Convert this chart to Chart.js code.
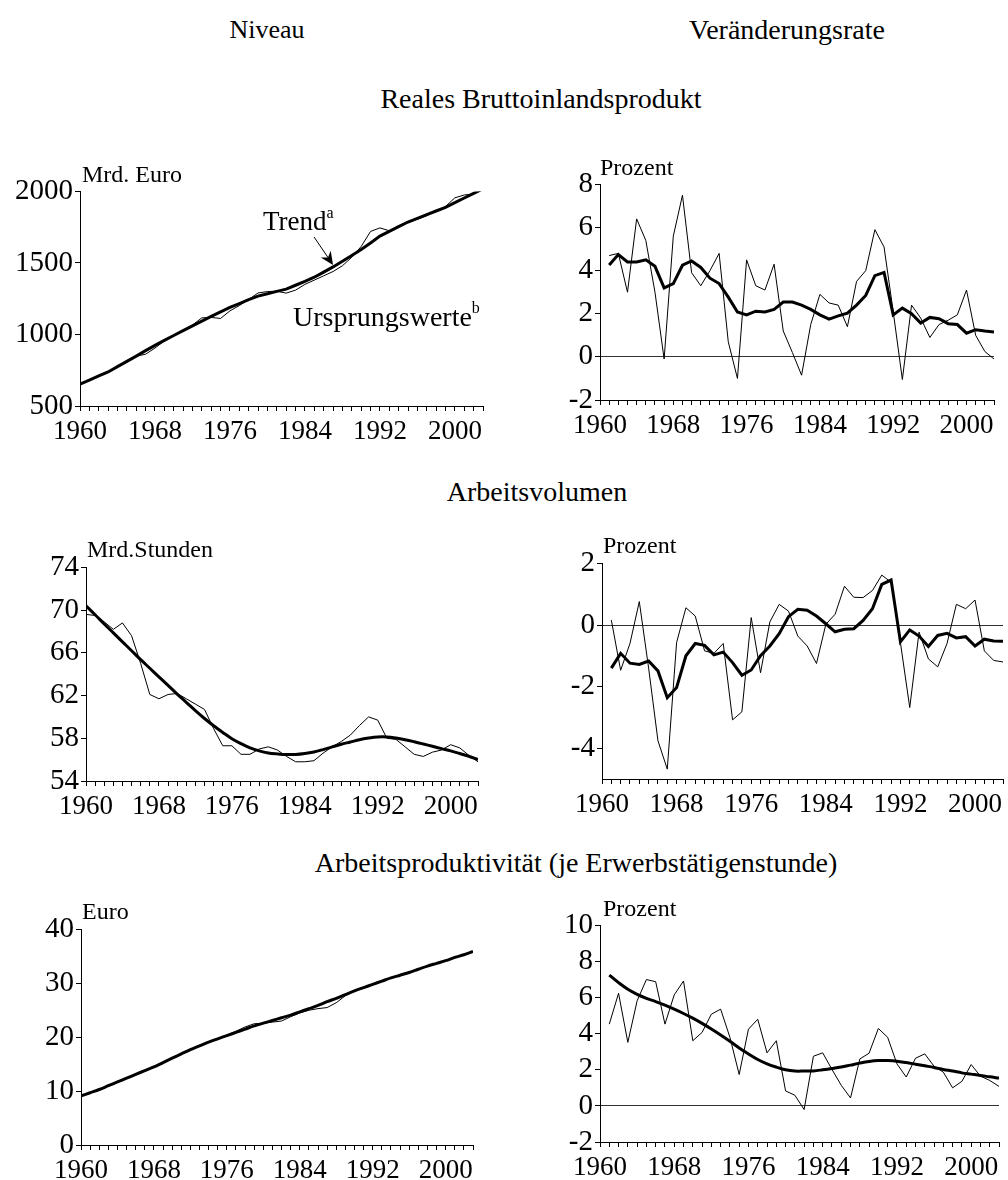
<!DOCTYPE html>
<html lang="de">
<head>
<meta charset="utf-8">
<title>Niveau und Veränderungsrate</title>
<script src="https://cdn.jsdelivr.net/npm/chart.js@4.4.1/dist/chart.umd.min.js"></script>
<style>
  html, body { margin: 0; padding: 0; background: #fff; }
  body { width: 1008px; height: 1180px; position: relative; overflow: hidden;
         font-family: 'Liberation Serif', 'Times New Roman', serif; color: #000; }
  canvas { position: absolute; }
  .txt { position: absolute; white-space: nowrap; line-height: 1; }
  .titel { font-size: 28px; transform: translateX(-50%); }
  .einheit { font-size: 24px; }
  .notiz { font-size: 27px; }
  .notiz sup { font-size: 16px; vertical-align: top; position: relative; top: -3px; }
</style>
</head>
<body>
<canvas id="bipNiveauChart"></canvas>
<canvas id="bipRateChart"></canvas>
<canvas id="avNiveauChart"></canvas>
<canvas id="avRateChart"></canvas>
<canvas id="apNiveauChart"></canvas>
<canvas id="apRateChart"></canvas>

<div class="txt titel" style="left:267px; top:17px; font-size:26px">Niveau</div>
<div class="txt titel" style="left:787px; top:16px">Veränderungsrate</div>
<div class="txt titel" style="left:541px; top:85px">Reales Bruttoinlandsprodukt</div>
<div class="txt titel" style="left:537px; top:478px">Arbeitsvolumen</div>
<div class="txt titel" style="left:576px; top:849px">Arbeitsproduktivität (je Erwerbstätigenstunde)</div>

<div class="txt einheit" style="left:82px; top:162px">Mrd. Euro</div>
<div class="txt einheit" style="left:600px; top:155px">Prozent</div>
<div class="txt einheit" style="left:87px; top:537px">Mrd.Stunden</div>
<div class="txt einheit" style="left:603px; top:533px">Prozent</div>
<div class="txt einheit" style="left:82px; top:899px">Euro</div>
<div class="txt einheit" style="left:603px; top:896px">Prozent</div>

<div class="txt notiz" style="left:263px; top:208px">Trend<sup>a</sup></div>
<div class="txt notiz" style="left:293px; top:303px; font-size:28px">Ursprungswerte<sup>b</sup></div>

<script>
// Jahre
const jahre = [1960, 1961, 1962, 1963, 1964, 1965, 1966, 1967, 1968, 1969,
  1970, 1971, 1972, 1973, 1974, 1975, 1976, 1977, 1978, 1979,
  1980, 1981, 1982, 1983, 1984, 1985, 1986, 1987, 1988, 1989,
  1990, 1991, 1992, 1993, 1994, 1995, 1996, 1997, 1998, 1999,
  2000, 2001, 2002, 2003];
const rateJahre = jahre.slice(1);
const beschrifteteJahre = [1960, 1968, 1976, 1984, 1992, 2000];

// Reales Bruttoinlandsprodukt (Mrd. Euro)
const bipNiveau = [653, 683, 713, 740, 776, 810, 848, 862, 905, 955,
  993, 1026, 1066, 1116, 1119, 1112, 1165, 1202, 1245, 1290,
  1300, 1302, 1289, 1310, 1350, 1380, 1410, 1440, 1480, 1540,
  1615, 1720, 1745, 1725, 1760, 1790, 1805, 1830, 1862, 1895,
  1955, 1975, 1982, 2012];
const bipTrend = [653, 681, 710, 738, 775, 812, 849, 887, 924, 959,
  993, 1027, 1060, 1093, 1126, 1158, 1190, 1216, 1243, 1268,
  1285, 1301, 1317, 1344, 1371, 1400, 1436, 1472, 1512, 1552,
  1594, 1640, 1688, 1721, 1754, 1786, 1812, 1838, 1863, 1889,
  1921, 1954, 1986, 2019];
// Veränderungsrate (Prozent), ab 1961
const bipRate = [4.7, 4.8, 3.0, 6.4, 5.4, 3.0, -0.1, 5.6, 7.5, 3.9,
  3.3, 4.0, 4.8, 0.7, -1.0, 4.5, 3.3, 3.1, 4.3, 1.2,
  0.2, -0.85, 1.5, 2.9, 2.5, 2.4, 1.4, 3.5, 4.0, 5.9,
  5.1, 2.1, -1.05, 2.4, 1.8, 0.9, 1.5, 1.7, 1.95, 3.1,
  1.0, 0.25, -0.1];
const bipRateTrend = [4.26, 4.75, 4.4, 4.4, 4.5, 4.2, 3.2, 3.4, 4.25, 4.45,
  4.15, 3.65, 3.4, 2.77, 2.08, 1.95, 2.12, 2.08, 2.2, 2.54,
  2.54, 2.4, 2.2, 1.95, 1.75, 1.9, 2.03, 2.4, 2.85, 3.77,
  3.92, 1.95, 2.26, 2.0, 1.57, 1.83, 1.77, 1.54, 1.5, 1.1,
  1.26, 1.2, 1.15];

// Arbeitsvolumen (Mrd. Stunden)
const avNiveau = [69.6, 69.5, 68.9, 68.2, 68.8, 67.6, 65.0, 62.1, 61.7, 62.1,
  62.2, 61.7, 61.2, 60.7, 58.9, 57.3, 57.3, 56.5, 56.5, 57.0,
  57.2, 56.9, 56.3, 55.8, 55.8, 55.9, 56.6, 57.2, 57.7, 58.3,
  59.2, 60.0, 59.7, 58.0, 57.9, 57.2, 56.5, 56.3, 56.7, 56.9,
  57.4, 57.1, 56.4, 55.8];
const avTrend = [70.41, 69.57, 68.7, 67.87, 67.03, 66.2, 65.36, 64.56, 63.75, 62.95,
  62.14, 61.37, 60.59, 59.85, 59.17, 58.55, 57.96, 57.5, 57.1, 56.82,
  56.63, 56.54, 56.48, 56.48, 56.57, 56.72, 56.94, 57.19, 57.44, 57.65,
  57.87, 58.02, 58.12, 58.12, 58.02, 57.87, 57.68, 57.47, 57.25, 57.03,
  56.82, 56.57, 56.32, 56.01];
const avRate = [0.16, -1.47, -0.6, 0.76, -1.4, -3.76, -4.68, -0.57, 0.56, 0.29,
  -0.84, -0.92, -0.6, -3.08, -2.82, 0.24, -1.55, 0.1, 0.67, 0.45,
  -0.36, -0.68, -1.25, 0.02, 0.35, 1.26, 0.9, 0.89, 1.12, 1.62,
  1.39, -0.57, -2.68, -0.23, -1.1, -1.36, -0.6, 0.67, 0.53, 0.81,
  -0.84, -1.15, -1.2];
const avRateTrend = [-1.4, -0.92, -1.24, -1.28, -1.17, -1.49, -2.36, -2.03, -1.0, -0.6,
  -0.66, -0.97, -0.88, -1.22, -1.63, -1.46, -1.0, -0.68, -0.28, 0.27,
  0.51, 0.48, 0.29, 0.04, -0.22, -0.14, -0.12, 0.15, 0.53, 1.32,
  1.46, -0.55, -0.16, -0.36, -0.7, -0.34, -0.27, -0.42, -0.38, -0.68,
  -0.46, -0.52, -0.53];

// Arbeitsproduktivität (Euro je Erwerbstätigenstunde)
const apNiveau = [9.0, 9.6, 10.3, 10.9, 11.6, 12.4, 13.2, 13.8, 14.6, 15.4,
  16.1, 16.9, 17.7, 18.5, 19.1, 19.7, 20.4, 21.1, 21.9, 22.5,
  22.6, 22.8, 23.0, 23.8, 24.5, 25.0, 25.3, 25.5, 26.4, 27.7,
  28.7, 29.3, 29.8, 30.3, 31.0, 31.6, 32.1, 32.6, 33.2, 33.6,
  34.2, 34.8, 35.3, 35.9];
const apTrend = [9.1, 9.7, 10.3, 11.0, 11.7, 12.4, 13.1, 13.8, 14.5, 15.3,
  16.1, 16.9, 17.7, 18.4, 19.1, 19.7, 20.3, 20.9, 21.5, 22.1,
  22.6, 23.1, 23.6, 24.1, 24.7, 25.3, 25.9, 26.6, 27.2, 27.9,
  28.6, 29.2, 29.8, 30.4, 31.0, 31.5, 32.0, 32.6, 33.2, 33.7,
  34.2, 34.8, 35.3, 35.9];
const apRate = [4.53, 6.24, 3.52, 5.82, 7.0, 6.88, 4.53, 6.15, 6.92, 3.61,
  4.07, 5.08, 5.36, 3.8, 1.74, 4.25, 4.8, 2.94, 3.61, 0.83,
  0.59, -0.2, 2.75, 2.94, 2.02, 1.14, 0.44, 2.6, 2.92, 4.29,
  3.8, 2.33, 1.6, 2.64, 2.88, 2.2, 1.87, 1.0, 1.36, 2.29,
  1.65, 1.41, 1.08];
const apRateTrend = [7.25, 6.83, 6.46, 6.18, 5.96, 5.78, 5.58, 5.36, 5.12, 4.86,
  4.57, 4.26, 3.93, 3.58, 3.21, 2.88, 2.57, 2.33, 2.15, 2.0,
  1.93, 1.93, 1.94, 2.0, 2.07, 2.15, 2.26, 2.37, 2.46, 2.51,
  2.51, 2.48, 2.4, 2.31, 2.22, 2.13, 2.02, 1.93, 1.83, 1.76,
  1.69, 1.61, 1.54];

const schrift = "'Liberation Serif', 'Times New Roman', serif";
const Y_BREITE = 84;
const X_HOEHE = 48;
const OBEN = 18;
const RECHTS = 14;

// Pfeil vom Wort "Trend" auf die Trendlinie (1987)
const trendPfeil = {
  id: 'trendPfeil',
  afterDatasetsDraw(chart) {
    const { ctx, scales } = chart;
    const i = jahre.indexOf(1987);
    const zx = scales.x.getPixelForValue(1987);
    const zy = scales.y.getPixelForValue(bipTrend[i]) - 2;
    const sx = zx - 19;
    const sy = zy - 28;
    const laenge = Math.hypot(zx - sx, zy - sy);
    const dx = (zx - sx) / laenge;
    const dy = (zy - sy) / laenge;
    ctx.save();
    ctx.strokeStyle = '#000';
    ctx.fillStyle = '#000';
    ctx.lineWidth = 1;
    ctx.beginPath();
    ctx.moveTo(sx, sy);
    ctx.lineTo(zx - dx * 8, zy - dy * 8);
    ctx.stroke();
    ctx.beginPath();
    ctx.moveTo(zx, zy);
    ctx.lineTo(zx - dx * 13 - dy * 6, zy - dy * 13 + dx * 6);
    ctx.lineTo(zx - dx * 9, zy - dy * 9);
    ctx.lineTo(zx - dx * 13 + dy * 6, zy - dy * 13 - dx * 6);
    ctx.closePath();
    ctx.fill();
    ctx.restore();
  }
};

function erzeugeDiagramm(canvasId, flaeche, skala, xWerte, ursprung, trend, glatt, extraPlugins) {
  const canvas = document.getElementById(canvasId);
  canvas.width = flaeche.r - flaeche.l + Y_BREITE + RECHTS;
  canvas.height = flaeche.b - flaeche.t + OBEN + X_HOEHE;
  canvas.style.left = (flaeche.l - Y_BREITE) + 'px';
  canvas.style.top = (flaeche.t - OBEN) + 'px';

  return new Chart(canvas, {
    type: 'line',
    data: {
      datasets: [
        {
          data: trend.map((v, i) => ({ x: xWerte[i], y: v })),
          borderColor: '#000',
          borderWidth: 3,
          pointRadius: 0,
          tension: glatt ? 0.35 : 0,
          order: 0
        },
        {
          data: ursprung.map((v, i) => ({ x: xWerte[i], y: v })),
          borderColor: '#000',
          borderWidth: 1,
          pointRadius: 0,
          tension: 0,
          order: 1
        }
      ]
    },
    options: {
      responsive: false,
      animation: false,
      events: [],
      layout: { padding: { top: OBEN, right: RECHTS, left: 0, bottom: 0 } },
      plugins: { legend: { display: false }, tooltip: { enabled: false } },
      scales: {
        x: {
          type: 'linear',
          min: 1960,
          max: 2003,
          afterBuildTicks: (s) => { s.ticks = jahre.map((v) => ({ value: v })); },
          afterFit: (s) => { s.height = X_HOEHE; },
          ticks: {
            autoSkip: false,
            maxRotation: 0,
            color: '#000',
            padding: 5,
            font: { family: schrift, size: 27 },
            callback: (v) => beschrifteteJahre.includes(v) ? String(v) : ''
          },
          grid: { drawOnChartArea: false, tickLength: 5, tickColor: '#000', lineWidth: 1 },
          border: { color: '#000', width: 1 }
        },
        y: {
          min: skala.min,
          max: skala.max,
          afterBuildTicks: (s) => { s.ticks = skala.ticks.map((v) => ({ value: v })); },
          afterFit: (s) => { s.width = Y_BREITE; },
          ticks: {
            autoSkip: false,
            color: '#000',
            padding: 2,
            font: { family: schrift, size: 29 },
            callback: (v) => String(v)
          },
          grid: {
            color: (c) => (skala.nulllinie && c.tick && c.tick.value === 0) ? '#333' : 'rgba(0,0,0,0)',
            tickColor: '#000',
            tickLength: 5,
            lineWidth: 1
          },
          border: { color: '#000', width: 1 }
        }
      }
    },
    plugins: extraPlugins || []
  });
}

erzeugeDiagramm('bipNiveauChart', { l: 80, t: 190, r: 483, b: 406 },
  { min: 500, max: 2000, ticks: [500, 1000, 1500, 2000] },
  jahre, bipNiveau, bipTrend, false, [trendPfeil]);
erzeugeDiagramm('bipRateChart', { l: 600, t: 183, r: 994, b: 400 },
  { min: -2, max: 8, ticks: [-2, 0, 2, 4, 6, 8], nulllinie: true },
  rateJahre, bipRate, bipRateTrend, false);
erzeugeDiagramm('avNiveauChart', { l: 86, t: 566, r: 478, b: 781 },
  { min: 54, max: 74, ticks: [54, 58, 62, 66, 70, 74] },
  jahre, avNiveau, avTrend, true);
erzeugeDiagramm('avRateChart', { l: 602, t: 562, r: 1003, b: 779 },
  { min: -5, max: 2, ticks: [-4, -2, 0, 2], nulllinie: true },
  rateJahre, avRate, avRateTrend, false);
erzeugeDiagramm('apNiveauChart', { l: 81, t: 928, r: 473, b: 1145 },
  { min: 0, max: 40, ticks: [0, 10, 20, 30, 40] },
  jahre, apNiveau, apTrend, true);
erzeugeDiagramm('apRateChart', { l: 600, t: 924, r: 999, b: 1142 },
  { min: -2, max: 10, ticks: [-2, 0, 2, 4, 6, 8, 10], nulllinie: true },
  rateJahre, apRate, apRateTrend, true);
</script>
</body>
</html>
